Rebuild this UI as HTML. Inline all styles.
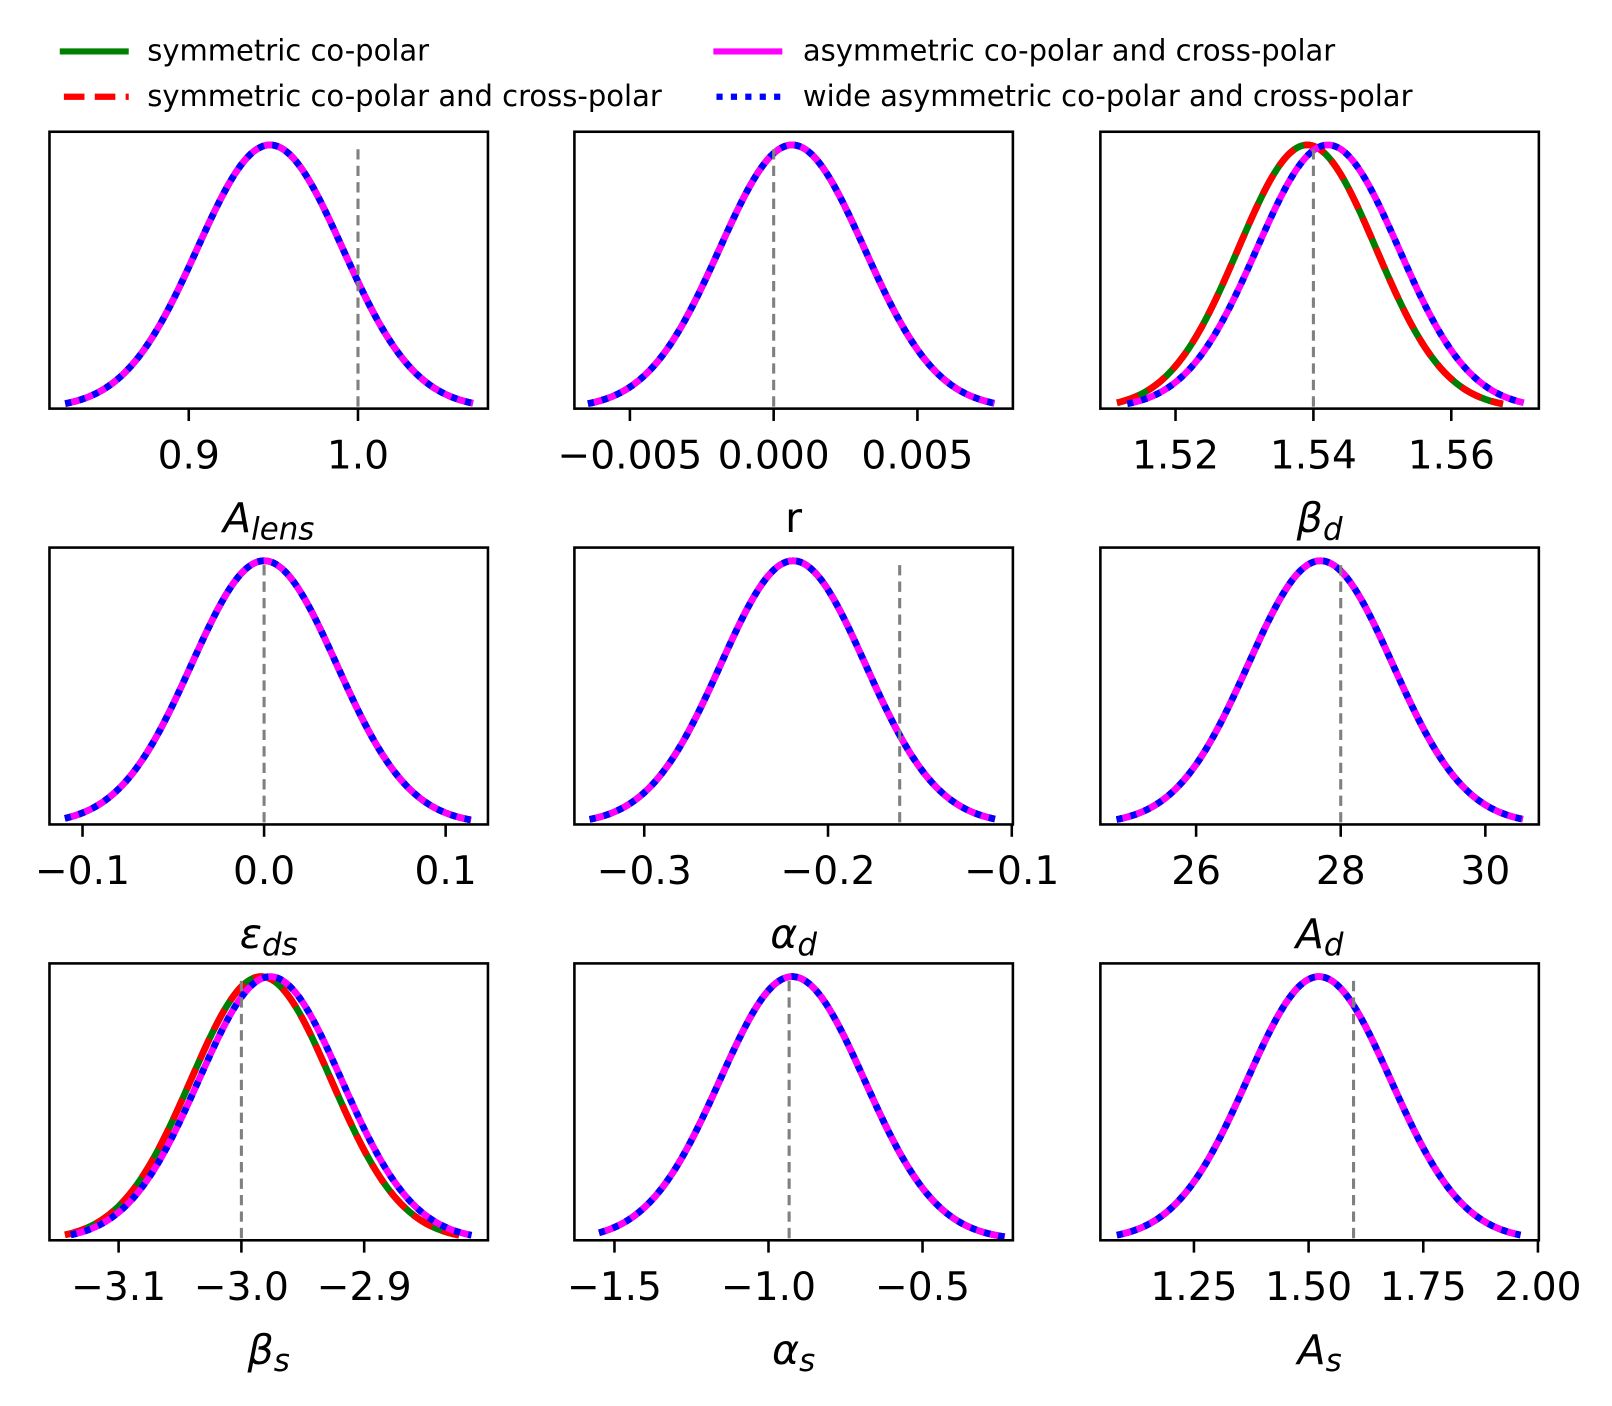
<!DOCTYPE html>
<html><head><meta charset="utf-8"><style>
html,body{margin:0;padding:0;background:#fff}
svg{display:block}
text{font-family:"DejaVu Sans","Liberation Sans",sans-serif;fill:#000}
</style></head><body>
<svg id="fig" width="1612" height="1406" viewBox="0 0 1566 1366" xmlns="http://www.w3.org/2000/svg">
<g>
 <line x1="58" y1="50" x2="125" y2="50" stroke="#008000" stroke-width="6"/>
 <text x="143" y="59" font-size="28.2">symmetric co-polar</text>
 <line x1="62" y1="94" x2="125" y2="94" stroke="#ff0000" stroke-width="6" stroke-dasharray="20,10"/>
 <text x="143" y="103" font-size="28.2">symmetric co-polar and cross-polar</text>
 <line x1="693" y1="50" x2="760" y2="50" stroke="#ff00ff" stroke-width="6"/>
 <text x="780" y="59" font-size="28.2">asymmetric co-polar and cross-polar</text>
 <line x1="696" y1="94" x2="760" y2="94" stroke="#0000ff" stroke-width="6" stroke-dasharray="6,8"/>
 <text x="780" y="103" font-size="28.2">wide asymmetric co-polar and cross-polar</text>
</g>
</svg>
<script>
// panel data
const panelNames = ["A_lens","r","beta_d","eps_ds","alpha_d","A_d","beta_s","alpha_s","A_s"];
const xMins = [0.8177,-0.00693,1.5091,-0.1182,-0.338,24.676,-3.1563,-1.63,1.046];
const xMaxs = [1.0768,0.00832,1.5727,0.1233,-0.0994,30.74,-2.7992,-0.2067,2.002];
const tickVals = [[0.9,1.0],[-0.005,0,0.005],[1.52,1.54,1.56],[-0.1,0,0.1],[-0.3,-0.2,-0.1],[26,28,30],[-3.1,-3.0,-2.9],[-1.5,-1.0,-0.5],[1.25,1.5,1.75,2.0]];
const tickLabels = [["0.9","1.0"],["\u22120.005","0.000","0.005"],["1.52","1.54","1.56"],["\u22120.1","0.0","0.1"],["\u22120.3","\u22120.2","\u22120.1"],["26","28","30"],["\u22123.1","\u22123.0","\u22122.9"],["\u22121.5","\u22121.0","\u22120.5"],["1.25","1.50","1.75","2.00"]];
const truthVals = [1.0,0.0,1.54,0.0,-0.161,28,-3.0,-0.933,1.598];
// symmetric (green & red) series: mean, sigma, range
const symMean = [0.948,0.00064,1.5391,0.0,-0.219,27.72,-2.984,-0.923,1.5225];
const symSigma = [0.043,0.00252,0.0100,0.040,0.0394,1.0,0.0573,0.235,0.157];
const symLo = [0.827,-0.00646,1.5115,-0.1097,-0.3297,24.9,-3.1437,-1.55,1.082];
const symHi = [1.068,0.00768,1.5675,0.114,-0.1091,30.52,-2.8227,-0.233,1.962];
// asymmetric (magenta & blue) series
const asyMean = [0.948,0.00064,1.5421,0.0,-0.219,27.72,-2.9765,-0.923,1.5225];
const asySigma = [0.043,0.00252,0.0103,0.040,0.0394,1.0,0.0583,0.235,0.157];
const asyLo = [0.827,-0.00646,1.513,-0.1097,-0.3297,24.9,-3.139,-1.55,1.082];
const asyHi = [1.068,0.00768,1.5705,0.114,-0.1091,30.52,-2.8126,-0.233,1.962];
const axisLabels = [["A","lens"],["r",""],["β","d"],["ε","ds"],["α","d"],["A","d"],["β","s"],["α","s"],["A","s"]];

const NS="http://www.w3.org/2000/svg";
const svg=document.getElementById('fig');
const colX=[48,558,1069], colW=426, rowY=[128,532,936], rowH=269;
function mk(tag,attrs,parent){const e=document.createElementNS(NS,tag);for(const k in attrs)e.setAttribute(k,attrs[k]);parent.appendChild(e);return e;}

panelNames.forEach((nm,i)=>{
  const L=colX[i%3], T=rowY[Math.floor(i/3)], B=T+rowH;
  const xs=v=>L+(v-xMins[i])/(xMaxs[i]-xMins[i])*colW;
  const ys=f=>B-f*rowH/1.05;
  const g=mk('g',{},svg);
  
  
  function curve(mu,sg,lo,hi,color,dash,name){
    let d='';
    for(let k=0;k<=200;k++){const v=lo+(hi-lo)*k/200;const f=Math.exp(-0.5*((v-mu)/sg)**2);d+=(k?'L':'M')+xs(v).toFixed(2)+','+ys(f).toFixed(2);}
    const p=mk('path',{d:d,fill:'none',stroke:color,'stroke-width':6.5,'stroke-linejoin':'round'},g);
    if(dash)p.setAttribute('stroke-dasharray',dash);
    
    
  }
  curve(symMean[i],symSigma[i],symLo[i],symHi[i],'#008000',null,'curve-symmetric-co-polar');
  curve(symMean[i],symSigma[i],symLo[i],symHi[i],'#ff0000','22,10','curve-symmetric-co-cross');
  curve(asyMean[i],asySigma[i],asyLo[i],asyHi[i],'#ff00ff',null,'curve-asymmetric');
  curve(asyMean[i],asySigma[i],asyLo[i],asyHi[i],'#0000ff','6,8','curve-wide-asymmetric');
  const tx=xs(truthVals[i]);
  const vl=mk('line',{x1:tx,x2:tx,y1:T+17,y2:B,stroke:'#808080','stroke-width':3,'stroke-dasharray':'10,6'},g);
  
  
  const fr=mk('rect',{x:L,y:T,width:colW,height:rowH,fill:'none',stroke:'#000','stroke-width':2.5},g);
  
  
  tickVals[i].forEach((v,j)=>{
    const x=xs(v);
    const t=mk('line',{x1:x,x2:x,y1:B,y2:B+12,stroke:'#000','stroke-width':2.5},g);
    
    
    const tl=mk('text',{x:x,y:B+58,'font-size':38,'text-anchor':'middle'},g);
    tl.textContent=tickLabels[i][j];
    
    
  });
  const lab=mk('text',{x:L+colW/2,y:B+120,'font-size':40,'text-anchor':'middle'},g);
  
  
  const m=mk('tspan',{'font-style':axisLabels[i][0]==='r'?'normal':'italic'},lab);
  m.textContent=axisLabels[i][0];
  if(axisLabels[i][1]){const s=mk('tspan',{'font-style':'italic','font-size':30,dy:7},lab);s.textContent=axisLabels[i][1];}
});
</script>
</body></html>
